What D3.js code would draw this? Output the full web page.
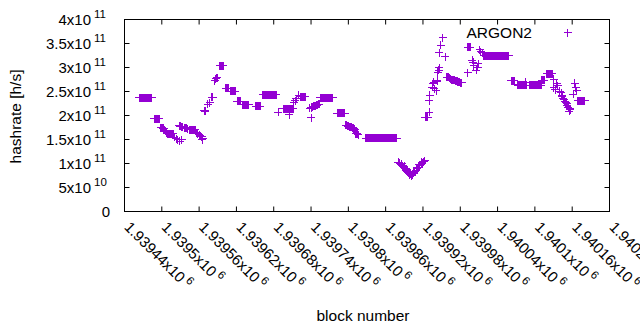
<!DOCTYPE html>
<html>
<head>
<meta charset="utf-8">
<script src="https://cdn.jsdelivr.net/npm/d3@7"></script>
<style>
  body { margin: 0; background: #fff; }
  text { font-family: "Liberation Sans", Arial, sans-serif; fill: #000; }
</style>
</head>
<body>
<div id="chart"></div>
<script>
// block number -> estimated hashrate (in units of 1e11 h/s)
const points = [
  [1939464,2.37],[1939465,2.37],[1939466,2.37],[1939467,2.37],[1939468,2.37],[1939469,2.37],
  [1939470,2.37],[1939471,2.37],[1939472,2.37],[1939473,2.37],[1939474,2.37],[1939475,2.37],
  [1939476,2.37],[1939477,2.37],[1939478,2.37],[1939479,2.37],[1939480,2.37],[1939481,2.37],
  [1939482,2.37],[1939483,2.37],[1939484,2.37],
  [1939488,1.93],[1939489,1.93],[1939490,1.93],[1939491,1.93],[1939492,1.93],[1939493,1.93],
  [1939494,1.93],[1939495,1.93],[1939496,1.93],
  [1939498,1.74],[1939499,1.74],[1939500,1.74],[1939501,1.74],[1939502,1.73],[1939503,1.72],
  [1939504,1.69],[1939505,1.69],[1939506,1.68],
  [1939508,1.63],[1939509,1.62],[1939510,1.62],[1939511,1.62],[1939512,1.62],[1939513,1.62],
  [1939514,1.62],[1939515,1.62],[1939516,1.62],[1939517,1.62],[1939518,1.62],
  [1939520,1.55],[1939523,1.52],[1939526,1.50],[1939529,1.46],[1939532,1.50],
  [1939528,1.79],[1939530,1.78],[1939532,1.77],[1939534,1.76],[1939536,1.75],[1939538,1.74],
  [1939540,1.73],[1939542,1.72],[1939544,1.70],[1939545,1.70],[1939546,1.70],[1939547,1.70],
  [1939548,1.70],[1939549,1.70],[1939550,1.70],[1939551,1.70],[1939552,1.70],[1939553,1.70],
  [1939554,1.70],
  [1939556,1.64],[1939558,1.62],[1939560,1.60],[1939562,1.58],[1939564,1.56],[1939566,1.53],[1939565,1.49],
  [1939568,2.10],[1939569,2.10],[1939570,2.09],[1939574,2.23],[1939577,2.27],
  [1939580,2.38],[1939581,2.38],[1939582,2.38],
  [1939585,2.72],[1939587,2.77],[1939588,2.79],[1939589,2.79],
  [1939593,3.04],[1939594,3.04],[1939595,3.04],[1939596,3.04],[1939597,3.04],[1939598,3.04],[1939599,3.04],
  [1939603,2.57],[1939604,2.57],[1939605,2.57],[1939606,2.57],[1939607,2.57],
  [1939611,2.51],[1939612,2.51],[1939613,2.51],[1939614,2.51],[1939615,2.51],[1939616,2.51],
  [1939617,2.51],[1939618,2.51],
  [1939621,2.30],[1939622,2.30],[1939623,2.30],[1939624,2.30],[1939625,2.30],[1939626,2.30],
  [1939629,2.22],[1939630,2.22],[1939631,2.22],[1939632,2.22],[1939633,2.22],[1939634,2.22],
  [1939635,2.22],[1939636,2.22],[1939637,2.22],[1939638,2.22],[1939639,2.22],[1939640,2.22],
  [1939651,2.19],[1939652,2.19],[1939653,2.19],[1939654,2.19],[1939655,2.19],[1939656,2.19],
  [1939657,2.19],[1939658,2.19],
  [1939662,2.43],[1939663,2.43],[1939664,2.43],[1939665,2.43],[1939666,2.43],[1939667,2.43],
  [1939668,2.43],[1939669,2.43],[1939670,2.43],[1939671,2.43],[1939672,2.43],[1939673,2.43],
  [1939674,2.43],[1939675,2.43],[1939676,2.43],[1939677,2.43],[1939678,2.43],[1939679,2.43],
  [1939680,2.43],[1939681,2.43],[1939682,2.43],[1939683,2.43],[1939684,2.43],
  [1939687,2.07],
  [1939695,2.14],[1939696,2.14],[1939697,2.14],[1939698,2.14],[1939699,2.14],[1939700,2.14],
  [1939701,2.14],[1939702,2.14],[1939703,2.14],[1939704,2.14],[1939705,2.14],[1939706,2.14],
  [1939707,2.14],[1939708,2.14],[1939709,2.14],[1939710,2.14],[1939711,2.14],[1939705,2.02],
  [1939712,2.28],[1939715,2.31],[1939716,2.35],[1939720,2.42],
  [1939723,2.39],[1939724,2.39],[1939725,2.39],[1939726,2.39],[1939727,2.39],[1939728,2.39],
  [1939729,2.39],[1939730,2.39],[1939731,2.39],
  [1939740,1.95],
  [1939738,2.15],[1939740,2.16],[1939741,2.17],[1939743,2.18],[1939744,2.19],[1939746,2.20],
  [1939747,2.20],[1939749,2.21],[1939750,2.22],[1939752,2.23],[1939753,2.23],
  [1939755,2.37],[1939756,2.37],[1939757,2.37],[1939758,2.37],[1939759,2.37],[1939760,2.37],
  [1939761,2.37],[1939762,2.37],[1939763,2.37],[1939764,2.37],[1939765,2.37],[1939766,2.37],
  [1939767,2.37],[1939768,2.37],[1939769,2.37],[1939770,2.37],[1939771,2.37],[1939772,2.37],
  [1939773,2.37],[1939774,2.37],[1939775,2.37],
  [1939782,2.05],[1939783,2.05],[1939784,2.05],[1939785,2.05],[1939786,2.05],[1939787,2.05],
  [1939788,2.05],[1939789,2.05],[1939790,2.05],[1939791,2.05],[1939792,2.05],[1939793,2.05],
  [1939794,2.05],
  [1939796,1.80],[1939797,1.80],[1939798,1.79],[1939799,1.79],[1939800,1.78],[1939801,1.78],
  [1939802,1.77],[1939803,1.77],[1939804,1.76],[1939805,1.76],[1939806,1.75],[1939807,1.74],
  [1939808,1.73],[1939809,1.72],[1939810,1.71],
  [1939812,1.62],[1939813,1.62],[1939814,1.62],[1939815,1.61],[1939816,1.60],
  [1939828,1.53],[1939829,1.53],[1939830,1.53],[1939831,1.53],[1939832,1.53],[1939833,1.53],
  [1939834,1.53],[1939835,1.53],[1939836,1.53],[1939837,1.53],[1939838,1.53],[1939839,1.53],
  [1939840,1.53],[1939841,1.53],[1939842,1.53],[1939843,1.53],[1939844,1.53],[1939845,1.53],
  [1939846,1.53],[1939847,1.53],[1939848,1.53],[1939849,1.53],[1939850,1.53],[1939851,1.53],
  [1939852,1.53],[1939853,1.53],[1939854,1.53],[1939855,1.53],[1939856,1.53],[1939857,1.53],
  [1939858,1.53],[1939859,1.53],[1939860,1.53],[1939861,1.53],[1939862,1.53],[1939863,1.53],
  [1939864,1.53],[1939865,1.53],[1939866,1.53],[1939867,1.53],[1939868,1.53],[1939869,1.53],
  [1939870,1.53],[1939871,1.53],[1939872,1.53],[1939873,1.53],[1939874,1.53],[1939875,1.53],
  [1939876,1.53],[1939877,1.53],[1939878,1.53],
  [1939880,1.03],[1939883,1.01],[1939885,0.98],[1939886,1.00],[1939887,0.95],[1939889,0.92],
  [1939890,0.94],[1939891,0.89],[1939893,0.86],[1939894,0.88],[1939895,0.83],[1939897,0.80],
  [1939898,0.82],[1939899,0.77],[1939900,0.78],[1939901,0.74],[1939902,0.76],[1939903,0.77],
  [1939905,0.80],[1939906,0.82],[1939907,0.83],[1939909,0.86],[1939910,0.91],[1939911,0.89],
  [1939913,0.92],[1939914,0.97],[1939915,0.95],[1939917,0.98],[1939918,1.03],[1939919,1.01],
  [1939921,1.04],[1939923,1.06],
  [1939924,1.96],[1939925,1.96],[1939926,1.96],[1939927,1.96],[1939928,1.96],
  [1939930,2.07],[1939930,2.31],[1939931,2.42],[1939935,2.59],[1939936,2.66],[1939937,2.69],
  [1939938,2.56],[1939941,2.52],[1939943,2.73],[1939943,2.71],[1939944,2.90],[1939945,2.94],
  [1939946,2.99],[1939946,3.31],[1939949,3.46],[1939952,3.62],[1939956,3.22],
  [1939958,2.80],[1939959,2.80],[1939960,2.80],[1939961,2.80],[1939962,2.79],
  [1939964,2.76],[1939965,2.76],[1939966,2.75],[1939967,2.75],[1939968,2.74],[1939969,2.74],
  [1939970,2.73],[1939971,2.73],[1939972,2.72],[1939973,2.72],[1939974,2.71],[1939975,2.71],
  [1939976,2.70],[1939977,2.70],[1939978,2.69],[1939979,2.69],[1939980,2.68],[1939981,2.68],
  [1939982,2.68],
  [1939992,2.89],[1939992,3.42],[1939993,3.42],[1939994,3.42],[1939995,3.42],[1939996,3.42],
  [1939999,3.15],[1940001,3.11],[1940002,3.04],[1940006,2.94],[1940008,3.01],[1940009,3.08],
  [1940011,3.37],[1940013,3.33],[1940015,3.31],
  [1940018,3.25],[1940019,3.25],[1940020,3.25],[1940021,3.25],[1940022,3.25],[1940023,3.25],
  [1940024,3.25],[1940025,3.25],[1940026,3.25],[1940027,3.25],[1940028,3.25],[1940029,3.25],
  [1940030,3.25],[1940031,3.25],[1940032,3.25],[1940033,3.25],[1940034,3.25],[1940035,3.25],
  [1940036,3.25],[1940037,3.25],[1940038,3.25],[1940039,3.25],[1940040,3.25],[1940041,3.25],
  [1940042,3.25],[1940043,3.25],[1940044,3.25],[1940045,3.25],[1940046,3.25],[1940047,3.25],
  [1940048,3.25],[1940049,3.25],[1940050,3.25],[1940051,3.25],[1940052,3.25],[1940053,3.25],
  [1940054,3.25],[1940055,3.25],[1940056,3.25],[1940057,3.25],[1940058,3.25],
  [1940062,2.72],[1940063,2.72],[1940064,2.72],[1940065,2.72],[1940066,2.72],[1940067,2.72],
  [1940072,2.64],[1940073,2.63],[1940074,2.63],[1940075,2.63],[1940076,2.63],[1940077,2.63],
  [1940078,2.63],[1940079,2.63],[1940080,2.63],[1940081,2.63],[1940082,2.63],[1940083,2.63],
  [1940084,2.63],[1940085,2.63],[1940086,2.63],[1940085,2.69],
  [1940092,2.63],[1940093,2.63],[1940094,2.63],[1940095,2.63],[1940096,2.63],[1940097,2.63],
  [1940098,2.63],[1940099,2.63],[1940100,2.63],[1940101,2.63],[1940102,2.63],[1940103,2.63],
  [1940104,2.63],[1940105,2.63],[1940106,2.63],[1940107,2.63],[1940108,2.63],[1940109,2.63],
  [1940110,2.63],
  [1940111,2.73],[1940112,2.73],[1940113,2.73],[1940114,2.73],[1940115,2.73],
  [1940119,2.87],[1940120,2.87],[1940121,2.87],[1940122,2.87],[1940123,2.87],[1940124,2.87],
  [1940125,2.87],[1940126,2.87],[1940127,2.87],[1940128,2.87],
  [1940130,2.76],[1940130,2.58],[1940133,2.54],[1940135,2.66],[1940137,2.62],
  [1940140,2.51],[1940142,2.47],[1940143,2.40],[1940144,2.42],[1940146,2.35],[1940147,2.33],
  [1940148,2.30],[1940150,2.27],[1940151,2.24],[1940152,2.21],[1940154,2.17],
  [1940156,2.14],[1940155,2.09],[1940157,2.12],
  [1940162,2.44],[1940164,2.67],[1940166,2.58],[1940167,2.52],
  [1940169,2.31],[1940170,2.31],[1940171,2.31],[1940172,2.31],[1940173,2.31],[1940174,2.31],
  [1940175,2.31],[1940176,2.31],[1940177,2.31],[1940178,2.31],[1940179,2.31],[1940180,2.31]
];

const seriesName = 'ARGON2';

const xTicks = [1939440, 1939500, 1939560, 1939620, 1939680, 1939740, 1939800,
  1939860, 1939920, 1939980, 1940040, 1940100, 1940160, 1940220];
const xTickLabels = ['1.93944', '1.9395', '1.93956', '1.93962', '1.93968', '1.93974', '1.9398',
  '1.93986', '1.93992', '1.93998', '1.94004', '1.9401', '1.94016', '1.94022'];
const xTickExponent = '6';

const yTicks = [0, 0.5e11, 1e11, 1.5e11, 2e11, 2.5e11, 3e11, 3.5e11, 4e11];
const yTickLabels = ['0', '5', '1', '1.5', '2', '2.5', '3', '3.5', '4'];
const yTickExponents = ['', '10', '11', '11', '11', '11', '11', '11', '11'];

const dimensions = {
  width: 640,
  height: 330,
  left: 124.5,
  right: 609.5,
  top: 19.5,
  bottom: 211.5
};

const color = '#9400d3';

const svg = d3.select('#chart')
  .append('svg')
  .attr('width', dimensions.width)
  .attr('height', dimensions.height);

// Scales
const xScale = d3.scaleLinear()
  .domain([xTicks[0], xTicks[xTicks.length - 1]])
  .range([dimensions.left, dimensions.right]);

const yScale = d3.scaleLinear()
  .domain([0, 4e11])
  .range([dimensions.bottom, dimensions.top]);

// Tick marks on all four sides, pointing inwards
const tickLen = 5;
const noDomain = g => g.select('.domain').remove();

svg.append('g')
  .attr('transform', `translate(0, ${dimensions.bottom})`)
  .call(d3.axisBottom(xScale).tickValues(xTicks).tickSize(-tickLen).tickFormat('').offset(0))
  .call(noDomain);
svg.append('g')
  .attr('transform', `translate(0, ${dimensions.top})`)
  .call(d3.axisTop(xScale).tickValues(xTicks).tickSize(-tickLen).tickFormat('').offset(0))
  .call(noDomain);
svg.append('g')
  .attr('transform', `translate(${dimensions.left}, 0)`)
  .call(d3.axisLeft(yScale).tickValues(yTicks).tickSize(-tickLen).tickFormat('').offset(0))
  .call(noDomain);
svg.append('g')
  .attr('transform', `translate(${dimensions.right}, 0)`)
  .call(d3.axisRight(yScale).tickValues(yTicks).tickSize(-tickLen).tickFormat('').offset(0))
  .call(noDomain);

svg.selectAll('.tick line').attr('stroke', '#000');

// Border
svg.append('rect')
  .attr('x', dimensions.left)
  .attr('y', dimensions.top)
  .attr('width', dimensions.right - dimensions.left)
  .attr('height', dimensions.bottom - dimensions.top)
  .attr('fill', 'none')
  .attr('stroke', '#000')
  .attr('stroke-width', 1);

// Y tick labels  (mantissa x10^exp)
const yLabels = svg.append('g')
  .selectAll('g')
  .data(yTicks)
  .join('g')
  .attr('transform', d => `translate(0, ${yScale(d)})`);

yLabels.append('text')
  .attr('x', (d, i) => yTickExponents[i] ? 91 : 110)
  .attr('y', 5)
  .attr('text-anchor', 'end')
  .attr('font-size', 15)
  .text((d, i) => yTickExponents[i] ? yTickLabels[i] + 'x10' : yTickLabels[i]);

yLabels.filter((d, i) => yTickExponents[i])
  .append('text')
  .attr('x', 94)
  .attr('y', -2)
  .attr('font-size', 11.5)
  .text(d => yTickExponents[yTicks.indexOf(d)]);

// X tick labels, rotated
const xLabels = svg.append('g')
  .selectAll('text')
  .data(xTicks)
  .join('text')
  .attr('transform', d => `translate(${xScale(d) - 1}, 228) rotate(45)`)
  .attr('font-size', 15);

xLabels.append('tspan')
  .text((d, i) => xTickLabels[i] + 'x10');
xLabels.append('tspan')
  .attr('dx', 3)
  .attr('dy', -6)
  .attr('font-size', 11.5)
  .text(xTickExponent);

// Axis titles
svg.append('text')
  .attr('transform', 'translate(21, 116.5) rotate(-90)')
  .attr('text-anchor', 'middle')
  .attr('font-size', 15.5)
  .text('hashrate [h/s]');

svg.append('text')
  .attr('x', 363)
  .attr('y', 321)
  .attr('text-anchor', 'middle')
  .attr('font-size', 15.5)
  .text('block number');

// Points
const cross = 'M-4,0H4M0,-4V4';

svg.append('g')
  .attr('shape-rendering', 'crispEdges')
  .selectAll('path')
  .data(points)
  .join('path')
  .attr('transform', d => `translate(${xScale(d[0])}, ${yScale(d[1] * 1e11)})`)
  .attr('d', cross)
  .attr('fill', 'none')
  .attr('stroke', color)
  .attr('stroke-width', 1);

// Legend
svg.append('text')
  .attr('x', 532)
  .attr('y', 37.5)
  .attr('text-anchor', 'end')
  .attr('font-size', 15.5)
  .text(seriesName);

svg.append('path')
  .attr('transform', 'translate(567.5, 32.5)')
  .attr('shape-rendering', 'crispEdges')
  .attr('d', cross)
  .attr('fill', 'none')
  .attr('stroke', color)
  .attr('stroke-width', 1);
</script>
</body>
</html>
